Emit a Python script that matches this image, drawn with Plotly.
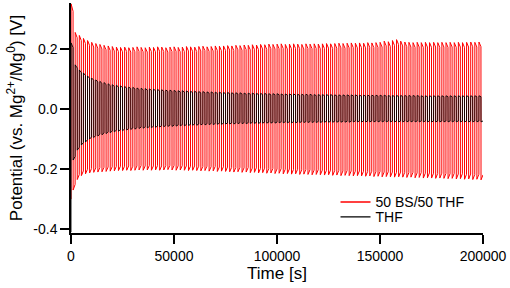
import plotly.graph_objects as go

# ---- data ----
PERIOD_S = 2000  # one charge/discharge cycle (s)
RED_START = -0.30
BLACK_START = -0.41
PLATEAU = 0.93   # relative level at end of a half cycle

red_upper = [0.35, 0.255, 0.245, 0.235, 0.228, 0.222, 0.218, 0.215, 0.212, 0.21,
             0.208, 0.206, 0.205, 0.206, 0.204, 0.205, 0.207, 0.205, 0.204, 0.206,
             0.205, 0.207, 0.206, 0.204, 0.206, 0.207, 0.205, 0.206, 0.208, 0.207,
             0.206, 0.208, 0.209, 0.207, 0.208, 0.210, 0.209, 0.210, 0.211, 0.210,
             0.212, 0.211, 0.213, 0.212, 0.214, 0.213, 0.215, 0.214, 0.216, 0.215,
             0.216, 0.217, 0.215, 0.216, 0.217, 0.216, 0.215, 0.217, 0.216, 0.217,
             0.216, 0.217, 0.218, 0.217, 0.218, 0.219, 0.218, 0.219, 0.220, 0.219,
             0.220, 0.219, 0.221, 0.220, 0.221, 0.222, 0.226, 0.224, 0.228, 0.231,
             0.226, 0.223, 0.222, 0.221, 0.222, 0.221, 0.222, 0.221, 0.222, 0.221,
             0.222, 0.221, 0.222, 0.221, 0.222, 0.221, 0.222, 0.223, 0.222, 0.223]
red_lower = [-0.27, -0.235, -0.222, -0.216, -0.213, -0.211, -0.21, -0.209, -0.208, -0.207,
             -0.206, -0.205, -0.205, -0.204, -0.205, -0.204, -0.203, -0.204, -0.203, -0.204,
             -0.203, -0.204, -0.203, -0.202, -0.203, -0.204, -0.203, -0.204, -0.205, -0.204,
             -0.205, -0.206, -0.205, -0.207, -0.206, -0.208, -0.207, -0.208, -0.209, -0.210,
             -0.209, -0.211, -0.210, -0.212, -0.211, -0.213, -0.212, -0.214, -0.213, -0.215,
             -0.214, -0.216, -0.215, -0.217, -0.216, -0.218, -0.217, -0.218, -0.219, -0.218,
             -0.219, -0.220, -0.219, -0.221, -0.220, -0.222, -0.221, -0.222, -0.223, -0.222,
             -0.223, -0.224, -0.223, -0.225, -0.224, -0.226, -0.225, -0.226, -0.227, -0.226,
             -0.227, -0.228, -0.227, -0.229, -0.228, -0.230, -0.229, -0.230, -0.231, -0.230,
             -0.231, -0.232, -0.231, -0.233, -0.232, -0.234, -0.233, -0.235, -0.234, -0.236]
black_upper = [0.22, 0.147, 0.13, 0.12, 0.11, 0.103, 0.097, 0.092, 0.088, 0.084,
               0.081, 0.079, 0.077, 0.075, 0.073, 0.072, 0.070, 0.069, 0.068, 0.067,
               0.066, 0.065, 0.064, 0.063, 0.063, 0.062, 0.061, 0.061, 0.060, 0.059,
               0.059, 0.058, 0.058, 0.057, 0.057, 0.056, 0.056, 0.055, 0.055, 0.054,
               0.054, 0.054, 0.053, 0.053, 0.053, 0.052, 0.052, 0.052, 0.051, 0.051,
               0.051, 0.050, 0.050, 0.050, 0.050, 0.049, 0.049, 0.049, 0.049, 0.048,
               0.048, 0.048, 0.048, 0.048, 0.047, 0.047, 0.047, 0.047, 0.047, 0.047,
               0.046, 0.046, 0.046, 0.046, 0.046, 0.046, 0.046, 0.045, 0.045, 0.045,
               0.045, 0.045, 0.045, 0.045, 0.045, 0.044, 0.044, 0.044, 0.044, 0.044,
               0.044, 0.044, 0.044, 0.044, 0.044, 0.044, 0.044, 0.044, 0.044, 0.044]
black_lower = [-0.17, -0.137, -0.12, -0.11, -0.10, -0.095, -0.09, -0.086, -0.082, -0.079,
               -0.076, -0.074, -0.072, -0.070, -0.068, -0.067, -0.065, -0.064, -0.063, -0.062,
               -0.061, -0.060, -0.059, -0.058, -0.058, -0.057, -0.056, -0.056, -0.055, -0.054,
               -0.054, -0.053, -0.053, -0.052, -0.052, -0.051, -0.051, -0.050, -0.050, -0.050,
               -0.049, -0.049, -0.049, -0.048, -0.048, -0.048, -0.047, -0.047, -0.047, -0.047,
               -0.046, -0.046, -0.046, -0.046, -0.046, -0.045, -0.045, -0.045, -0.045, -0.045,
               -0.045, -0.044, -0.044, -0.044, -0.044, -0.044, -0.044, -0.044, -0.043, -0.043,
               -0.043, -0.043, -0.043, -0.043, -0.043, -0.043, -0.043, -0.043, -0.043, -0.043,
               -0.043, -0.043, -0.043, -0.043, -0.043, -0.043, -0.043, -0.043, -0.043, -0.043,
               -0.043, -0.043, -0.043, -0.043, -0.043, -0.043, -0.043, -0.043, -0.043, -0.043]

series_names = ["50 BS/50 THF", "THF"]
x_ticks = [0, 50000, 100000, 150000, 200000]
y_ticks = [-0.4, -0.2, 0.0, 0.2]
y_tick_labels = ["-0.4", "-0.2", "0.0", "0.2"]


def build(start, upper, lower):
    xs, ys = [0], [start]
    for i, (u, l) in enumerate(zip(upper, lower)):
        t0 = i * PERIOD_S
        half = PERIOD_S / 2
        xs += [t0 + 0.02 * PERIOD_S, t0 + half, t0 + half + 0.02 * PERIOD_S, t0 + PERIOD_S]
        ys += [u, u * PLATEAU, l, l * PLATEAU]
    return xs, ys


rx, ry = build(RED_START, red_upper, red_lower)
bx, by = build(BLACK_START, black_upper, black_lower)

FONT = "Liberation Sans, Arial, sans-serif"
RED = "#ff0000"
BLACK = "#000000"

fig = go.Figure()
fig.add_trace(go.Scatter(x=rx, y=ry, mode="lines", showlegend=False,
                         hoverinfo="skip", line=dict(color=RED, width=1.0)))
fig.add_trace(go.Scatter(x=bx, y=by, mode="lines", showlegend=False,
                         hoverinfo="skip", line=dict(color=BLACK, width=0.9)))
# legend entries (no data, just the legend keys with a readable line width)
fig.add_trace(go.Scatter(x=[None], y=[None], mode="lines", name=series_names[0],
                         legend="legend", line=dict(color=RED, width=1.3)))
fig.add_trace(go.Scatter(x=[None], y=[None], mode="lines", name=series_names[1],
                         legend="legend2", line=dict(color=BLACK, width=1.3)))

leg_common = dict(xanchor="left", yanchor="middle", bgcolor="rgba(0,0,0,0)",
                  font=dict(size=14, family=FONT, color="black"),
                  itemwidth=30, borderwidth=0)

fig.update_layout(
    width=510, height=288,
    margin=dict(l=71, r=27, t=3, b=55, autoexpand=False),
    paper_bgcolor="white", plot_bgcolor="white",
    font=dict(family=FONT, size=14, color="black"),
    showlegend=True,
    legend=dict(x=0.642, y=0.133, **leg_common),
    legend2=dict(x=0.642, y=0.068, **leg_common),
    xaxis=dict(range=[0, 200000], tickvals=x_ticks, tickformat="d",
               showline=True, linecolor="black", linewidth=1.5,
               ticks="outside", ticklen=9, tickwidth=1.5, tickcolor="black",
               showgrid=False, zeroline=False, automargin=False,
               title=dict(text="Time [s]", standoff=2)),
    yaxis=dict(range=[-0.413, 0.353], tickvals=y_ticks, ticktext=y_tick_labels,
               showline=True, linecolor="black", linewidth=1.5,
               ticks="outside", ticklen=9, tickwidth=1.5, tickcolor="black",
               showgrid=False, zeroline=False, automargin=False,
               title=dict(text="Potential (vs. Mg<sup>2+</sup>/Mg<sup>0</sup>) [V]", standoff=6)),
)

fig.write_html("out.html", config={"displayModeBar": False},
               post_script="document.body.style.margin='0px';")
